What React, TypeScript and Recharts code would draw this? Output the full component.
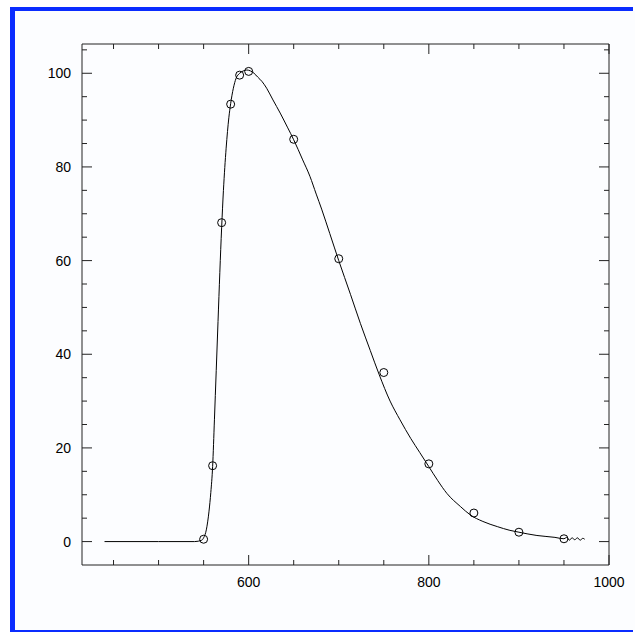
import React from "react";
import { ComposedChart, Line, Scatter, XAxis, YAxis } from "recharts";

// fitted curve
const curveX = [
  440, 500, 540, 548, 550, 553, 556, 558, 560, 562, 564, 566, 568, 570, 572,
  575, 578, 580, 583, 586, 590, 594, 598, 602, 606, 610, 615, 620, 627, 635,
  643, 650, 660, 668, 675, 681, 690, 700, 713, 724, 735, 745, 757, 768, 780,
  790, 800, 810, 820, 835, 846, 860, 876, 890, 900, 920, 940, 950, 953, 956,
  959, 962, 965, 968, 971, 973,
];
const curveY = [
  0, 0, 0, 0.3, 0.8, 2.5, 6.5, 10.5, 16, 26, 36.5, 47, 57.5, 67, 75, 84, 90.5,
  93.5, 96.8, 98.9, 100, 100.5, 100.7, 100.5, 100, 99.2, 98.2, 96.8, 94.3, 91.5,
  88.5, 85.8, 81.5, 78, 74.2, 71, 65.8, 60, 52.8, 46.6, 40.8, 35.6, 30, 26, 22, 19,
  16, 13, 10.3, 7.5, 5.7, 4.3, 3.2, 2.4, 2, 1.3, 0.9, 0.6, 0.9, 0.3, 0.8, 0.4,
  0.8, 0.3, 0.7, 0.5,
];

// measured points (circles)
const pointX = [550, 560, 570, 580, 590, 600, 650, 700, 750, 800, 850, 900, 950];
const pointY = [0.5, 16.2, 68.1, 93.4, 99.6, 100.4, 85.9, 60.4, 36.1, 16.6, 6.1, 2.0, 0.6];

const xTicks = [450, 500, 550, 600, 650, 700, 750, 800, 850, 900, 950, 1000];
const xMajor = [600, 800, 1000];
const yTicks = [0, 5, 10, 15, 20, 25, 30, 35, 40, 45, 50, 55, 60, 65, 70, 75, 80, 85, 90, 95, 100, 105];
const yMajor = [0, 20, 40, 60, 80, 100];

const curveData = curveX.map((x, i) => ({ x, y: curveY[i] }));
const pointData = pointX.map((x, i) => ({ x, y: pointY[i] }));

const INK = "#222";
const BLUE = "#0a2cff";
const FONT = "'Liberation Sans', Arial, Helvetica, sans-serif";

function BottomTick(props: any) {
  const { x, y, payload } = props;
  const major = xMajor.includes(payload.value);
  return (
    <g>
      <line x1={x} x2={x} y1={y} y2={y - (major ? 10 : 5)} stroke={INK} />
      {major && (
        <text x={x} y={y + 22} textAnchor="middle" fontSize={14} fontFamily={FONT} fill="#000">
          {payload.value}
        </text>
      )}
    </g>
  );
}

function TopTick(props: any) {
  const { x, y, payload } = props;
  const major = xMajor.includes(payload.value);
  return <line x1={x} x2={x} y1={y} y2={y + (major ? 10 : 5)} stroke={INK} />;
}

function LeftTick(props: any) {
  const { x, y, payload } = props;
  const major = yMajor.includes(payload.value);
  return (
    <g>
      <line x1={x} x2={x + (major ? 10 : 5)} y1={y} y2={y} stroke={INK} />
      {major && (
        <text x={x - 11} y={y + 5} textAnchor="end" fontSize={14} fontFamily={FONT} fill="#000">
          {payload.value}
        </text>
      )}
    </g>
  );
}

function RightTick(props: any) {
  const { x, y, payload } = props;
  const major = yMajor.includes(payload.value);
  return <line x1={x} x2={x - (major ? 10 : 5)} y1={y} y2={y} stroke={INK} />;
}

const ring = (p: any) => (
  <circle cx={p.cx} cy={p.cy} r={4} fill="none" stroke="#000" strokeWidth={1} />
);

const abs = (left: number, top: number, width: number, height: number, bg: string) => (
  <div style={{ position: "absolute", left, top, width, height, background: bg }} />
);

export default function App() {
  return (
    <div style={{ position: "absolute", left: 0, top: 0, width: 635, height: 632, background: "#fff", overflow: "hidden" }}>
      {abs(14, 11, 621, 619, "#fcfdff")}
      {abs(10, 7, 623, 4, BLUE)}
      {abs(10, 7, 4.5, 625, BLUE)}
      {abs(10, 630, 623, 2, BLUE)}
      <div style={{ position: "absolute", left: 0, top: 0 }}>
        <ComposedChart width={635} height={632} margin={{ top: 43, right: 25, bottom: 0, left: 0 }}>
          <XAxis
            xAxisId="b"
            type="number"
            dataKey="x"
            domain={[415, 1000]}
            ticks={xTicks}
            interval={0}
            height={67}
            tickSize={0}
            tickMargin={0}
            tickLine={false}
            axisLine={{ stroke: INK }}
            tick={<BottomTick />}
            allowDataOverflow
          />
          <XAxis
            xAxisId="t"
            orientation="top"
            type="number"
            dataKey="x"
            domain={[415, 1000]}
            ticks={xTicks}
            interval={0}
            height={1}
            tickSize={0}
            tickMargin={0}
            tickLine={false}
            axisLine={{ stroke: INK }}
            tick={<TopTick />}
            allowDataOverflow
          />
          <YAxis
            yAxisId="l"
            type="number"
            domain={[-5, 106.25]}
            ticks={yTicks}
            interval={0}
            width={82}
            tickSize={0}
            tickMargin={0}
            tickLine={false}
            axisLine={{ stroke: INK }}
            tick={<LeftTick />}
            allowDataOverflow
          />
          <YAxis
            yAxisId="r"
            orientation="right"
            type="number"
            domain={[-5, 106.25]}
            ticks={yTicks}
            interval={0}
            width={1}
            tickSize={0}
            tickMargin={0}
            tickLine={false}
            axisLine={{ stroke: INK }}
            tick={<RightTick />}
            allowDataOverflow
          />
          <Line
            xAxisId="b"
            yAxisId="l"
            data={curveData}
            dataKey="y"
            type="monotone"
            stroke="#000"
            strokeWidth={1}
            dot={false}
            activeDot={false}
            isAnimationActive={false}
          />
          <Scatter
            xAxisId="b"
            yAxisId="l"
            data={pointData}
            dataKey="y"
            shape={ring}
            isAnimationActive={false}
          />
          <Line
            xAxisId="t"
            yAxisId="r"
            data={pointData}
            dataKey="y"
            stroke="none"
            dot={false}
            activeDot={false}
            isAnimationActive={false}
          />
        </ComposedChart>
      </div>
    </div>
  );
}
